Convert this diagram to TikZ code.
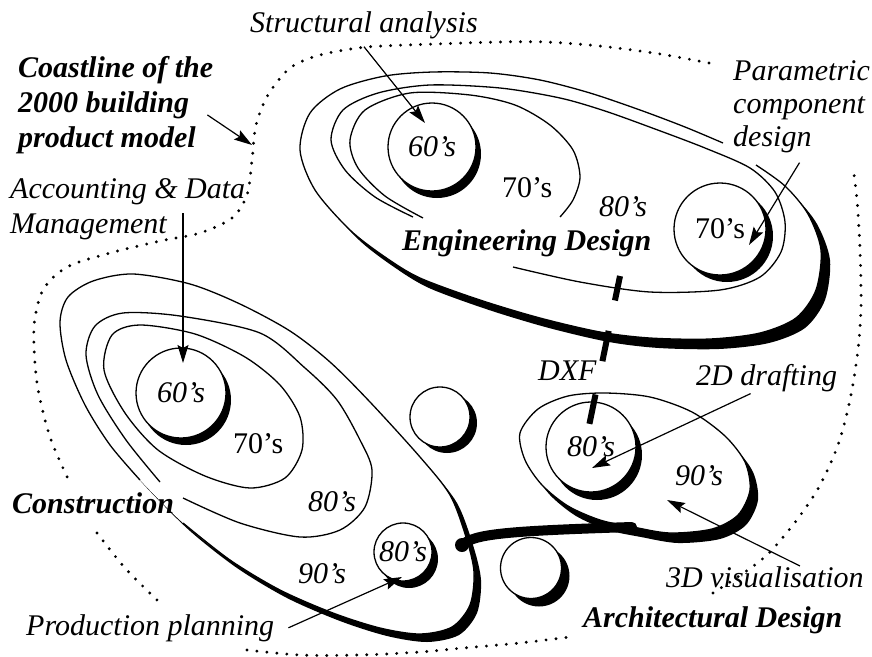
\documentclass[tikz,border=0pt]{standalone}
\usepackage{fontspec}
\setmainfont{Liberation Serif}
\usetikzlibrary{arrows.meta,shadows,calc}
\begin{document}
\begin{tikzpicture}[x=1pt,y=-1pt,
  txt/.style={inner sep=0pt, font=\fontsize{30}{35}\selectfont\itshape},
  txtr/.style={inner sep=0pt, font=\fontsize{30}{35}\selectfont},
  txtb/.style={inner sep=0pt, font=\fontsize{30}{35}\selectfont\bfseries\itshape},
  thinline/.style={line width=1.3pt},
  coastline/.style={line width=3.2pt, line cap=round, dash pattern=on 0pt off 10pt},
  arr/.style={line width=1.2pt, -{Stealth[length=18pt,width=11pt,inset=3pt]}},
  bub/.style={circle, draw, line width=1.3pt, fill=white, inner sep=0pt},
  sh/.style 2 args={drop shadow={shadow xshift=#1pt, shadow yshift=-#2pt, opacity=1, fill=black}},
]
\useasboundingbox (0,0) rectangle (872,656);

% ---------- coastline (dotted) ----------
\draw[coastline] plot[smooth] coordinates {(709,63) (660,54) (600,46) (546,42) (500,42) (436,44) (367,47) (320,55) (290,68) (268,95) (256,125) (252,160) (247,195) (232,218) (200,233) (160,241) (110,253) (67,267) (43,290) (34,327) (37,383) (50,437) (70,483)};
\draw[coastline] plot[smooth] coordinates {(97,533) (125,568) (157,600)};
\draw[coastline] plot[smooth] coordinates {(247,650) (300,655) (360,655) (420,652) (463,648) (520,643) (570,637)};
\draw[coastline] plot[smooth] coordinates {(713,593) (745,572) (769,553) (796,521) (819,487) (838,445) (850,400) (858,350) (861,307) (860,250) (857,200) (853,167)};

% ---------- Engineering design ----------
\fill[black, shift={(9,10)}] plot[smooth cycle] coordinates {(756,165) (785,186) (808,214) (821,250) (816,290) (796,318) (760,333) (710,339) (650,338) (600,332) (540,318) (480,300) (420,278) (385,257) (350,230) (315,190) (300,150) (310,113) (340,89) (385,76) (433,72) (490,73) (540,80) (590,93) (640,110) (685,127) (723,143)};
\fill[white] plot[smooth cycle] coordinates {(756,165) (785,186) (808,214) (821,250) (816,290) (796,318) (760,333) (710,339) (650,338) (600,332) (540,318) (480,300) (420,278) (385,257) (350,230) (315,190) (300,150) (310,113) (340,89) (385,76) (433,72) (490,73) (540,80) (590,93) (640,110) (685,127) (723,143)};
\draw[thinline] plot[smooth] coordinates {(756,165) (785,186) (808,214) (821,250) (816,290) (796,318) (760,333) (710,339) (650,338) (600,332) (540,318) (480,300) (420,278) (385,257) (350,230) (315,190) (300,150) (310,113) (340,89) (385,76) (433,72) (490,73) (540,80) (590,93) (640,110) (685,127) (723,143)};
% 80's ring
\draw[thinline] plot[smooth] coordinates {(413,217) (375,197) (345,170) (331,140) (343,110) (378,93) (430,85) (500,88) (560,98) (605,111) (655,129) (705,148) (750,168) (775,192) (785,222) (781,252) (760,277) (720,290) (650,292) (580,282) (513,267)};
% 70's ring
\draw[thinline] plot[smooth] coordinates {(423,218) (385,196) (358,168) (350,140) (365,110) (410,93) (470,95) (515,105) (550,125) (573,150) (580,177) (573,200) (560,217)};
\node[bub, sh={5}{7}, minimum size=88pt, font=\fontsize{30}{35}\selectfont\itshape] (e60) at (432,147) {60's};
\node[bub, sh={7}{7}, minimum size=92pt, font=\fontsize{30}{35}\selectfont] (e70) at (720,229) {70's};

% ---------- Construction ----------
\fill[black, shift={(7,8)}] plot[smooth cycle] coordinates {(183,523) (230,560) (280,590) (333,613) (380,628) (420,634) (452,627) (470,605) (474,572) (466,537) (450,495) (420,457) (370,402) (330,362) (290,331) (240,304) (190,284) (133,274) (93,281) (68,297) (60,322) (66,360) (85,405) (110,445) (140,480)};
\fill[white] plot[smooth cycle] coordinates {(183,523) (230,560) (280,590) (333,613) (380,628) (420,634) (452,627) (470,605) (474,572) (466,537) (450,495) (420,457) (370,402) (330,362) (290,331) (240,304) (190,284) (133,274) (93,281) (68,297) (60,322) (66,360) (85,405) (110,445) (140,480)};
\draw[thinline] plot[smooth] coordinates {(183,523) (230,560) (280,590) (333,613) (380,628) (420,634) (452,627) (470,605) (474,572) (466,537) (450,495) (420,457) (370,402) (330,362) (290,331) (240,304) (190,284) (133,274) (93,281) (68,297) (60,322) (66,360) (85,405) (110,445) (140,480)};
% 80's ring
\draw[thinline] plot[smooth] coordinates {(160,482) (126,440) (98,395) (86,355) (95,326) (123,313) (180,316) (260,333) (305,368) (337,400) (360,440) (372,470) (365,507) (340,530) (300,537) (240,523) (183,498)};
% 70's ring
\draw[thinline] plot[smooth cycle] coordinates {(104,370) (125,413) (158,450) (205,476) (250,488) (285,478) (302,450) (300,417) (280,385) (245,357) (195,334) (140,325) (112,335)};
\node[bub, sh={5}{7}, minimum size=90pt, font=\fontsize{30}{35}\selectfont\itshape] (c60) at (181,393) {60's};
\node[bub, sh={6}{7}, minimum size=58pt, font=\fontsize{30}{35}\selectfont\itshape] (c80) at (403,552) {80's};

% ---------- Architectural design ----------
\fill[black, shift={(8,10)}] plot[smooth cycle] coordinates {(520,433) (538,409) (568,396) (605,393) (650,397) (692,412) (725,436) (745,462) (750,490) (738,515) (712,529) (670,533) (633,527) (600,520) (568,506) (542,485) (525,460)};
\filldraw[thinline, fill=white] plot[smooth cycle] coordinates {(520,433) (538,409) (568,396) (605,393) (650,397) (692,412) (725,436) (745,462) (750,490) (738,515) (712,529) (670,533) (633,527) (600,520) (568,506) (542,485) (525,460)};
\node[bub, sh={6}{8}, minimum size=90pt, font=\fontsize{30}{35}\selectfont\itshape] (a80) at (591,447) {80's};

% ---------- free bubbles ----------
\node[bub, sh={7}{6}, minimum size=60pt] (b1) at (440,417) {};
\node[bub, sh={8}{8}, minimum size=61pt] (b2) at (531,568) {};

% ---------- link between construction and architecture ----------
\coordinate (lnkA) at (462,545);
\coordinate (lnkB) at (632,527);
\draw[line width=10pt, line cap=round] (lnkA) .. controls (474,534) and (505,531) .. (lnkB);
\fill (lnkA) circle[radius=7pt];

% ---------- DXF link ----------
\coordinate (dxfA) at (620,276);
\coordinate (dxfB) at (589,426);
\draw[line width=6pt, dash pattern=on 25pt off 31pt on 31pt off 34pt on 30pt] (dxfA) -- (dxfB);

% ---------- labels ----------
\node[txt, anchor=base west] (sa) at (250,32) {Structural analysis};
\node[txtb, anchor=north west, align=left] (coast) at (18,56) {Coastline of the\\2000 building\\product model};
\node[txt, anchor=north west, align=left] (acc) at (10,178) {Accounting \& Data\\Management};
\node[txt, anchor=north west, align=left, font=\fontsize{30}{33}\selectfont\itshape] (param) at (733,60) {Parametric\\component\\design};
\node[txtr, anchor=base west] (e70t) at (502,197) {70's};
\node[txt, anchor=base west] (e80t) at (599,216) {80's};
\node[txtb, anchor=base west] (eng) at (402,250) {Engineering Design};
\node[txtr, anchor=base west] (c70t) at (233,453) {70's};
\node[txt, anchor=base west] (c80t) at (308,511) {80's};
\node[txt, anchor=base west] (c90t) at (298,583) {90's};
\node[txtb, anchor=base west] (cons) at (12,513) {Construction};
\node[txt, anchor=base west] (prod) at (26,635) {Production planning};
\node[txt, anchor=base west] (dxf) at (538,380) {DXF};
\node[txt, anchor=base west] (d2) at (696,385) {2D drafting};
\node[txt, anchor=base west] (a90t) at (675,485) {90's};
\node[txt, anchor=base west] (d3) at (666,587) {3D visualisation};
\node[txtb, anchor=base west] (arch) at (583,627) {Architectural Design};

% ---------- arrows ----------
\coordinate (tSA) at (425,123);
\coordinate (tCo) at (252,145);
\coordinate (tAD) at (183,363);
\coordinate (tPC) at (749,245);
\coordinate (tPP) at (402,577);
\coordinate (t2D) at (592,468);
\coordinate (t3D) at (667,500);
\draw[arr] ([yshift=-8pt]sa.south) -- (tSA);
\draw[arr] ([shift={(-6pt,-10pt)}]coast.east) -- (tCo);
\draw[arr] ($(acc.north -| tAD)+(0,35)$) -- (tAD);
\draw[arr] ([shift={(-2pt,-10pt)}]param.south) -- (tPC);
\draw[arr] ([xshift=14pt]prod.east) -- (tPP);
\draw[arr] ([shift={(-16pt,-2pt)}]d2.south) -- (t2D);
\draw[arr] ([xshift=35pt]d3.north) -- (t3D);
\end{tikzpicture}
\end{document}
